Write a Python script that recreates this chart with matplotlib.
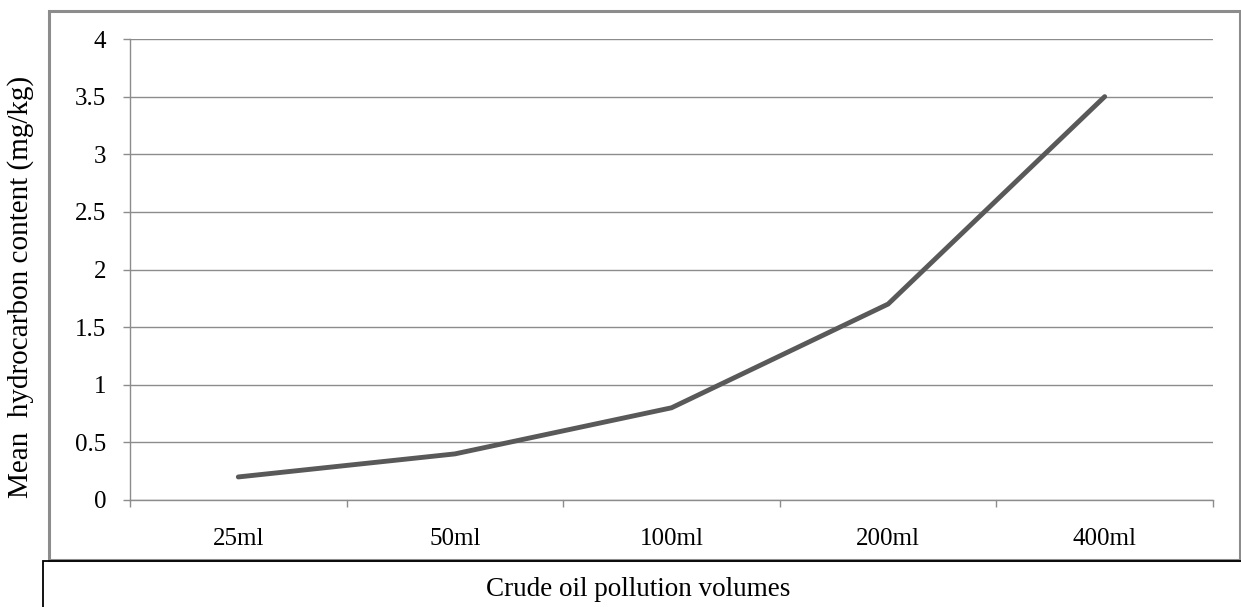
import matplotlib
matplotlib.use("Agg")
import matplotlib.pyplot as plt
from matplotlib.patches import Rectangle
import numpy as np

categories = ["25ml", "50ml", "100ml", "200ml", "400ml"]
hydrocarbon = [0.2, 0.4, 0.8, 1.7, 3.5]
y_ticks = [0, 0.5, 1, 1.5, 2, 2.5, 3, 3.5, 4]
y_tick_labels = ["0", "0.5", "1", "1.5", "2", "2.5", "3", "3.5", "4"]

plt.rcParams["font.family"] = ["Liberation Serif", "DejaVu Serif"]

W, H = 1241, 607
fig = plt.figure(figsize=(W / 100, H / 100), dpi=100)

def fx(px):
    return px / W

def fy(py):
    return 1 - py / H

# outer chart frame
fig.patches.append(Rectangle((fx(49), fy(560)), fx(1240) - fx(49), fy(11) - fy(560),
                             transform=fig.transFigure, fill=False,
                             edgecolor="#8c8c8c", linewidth=2.2))
# caption box for the x-axis title
fig.patches.append(Rectangle((fx(43), fy(640)), fx(1300) - fx(43), fy(561) - fy(640),
                             transform=fig.transFigure, fill=False,
                             edgecolor="black", linewidth=1.3, clip_on=False))

ax = fig.add_axes([fx(130), fy(500), fx(1213) - fx(130), fy(39) - fy(500)])
x = np.arange(len(categories))
ax.plot(x, hydrocarbon, color="#595959", linewidth=3.5, solid_capstyle="round",
        solid_joinstyle="miter", zorder=3)

ax.set_xlim(-0.5, len(categories) - 0.5)
ax.set_ylim(0, 4)
ax.set_yticks(y_ticks)
ax.set_yticklabels(y_tick_labels)
ax.set_xticks(x)
ax.set_xticklabels(categories)
ax.set_xticks(np.arange(-0.5, len(categories)), minor=True)

ax.grid(axis="y", color="#8c8c8c", linewidth=1.0)
ax.set_axisbelow(True)
for side in ["top", "right"]:
    ax.spines[side].set_visible(False)
for side in ["left", "bottom"]:
    ax.spines[side].set_color("#8c8c8c")
    ax.spines[side].set_linewidth(1.0)

ax.tick_params(axis="y", length=5, width=1.0, color="#8c8c8c", labelsize=18,
               pad=12, labelcolor="black")
ax.tick_params(axis="x", which="major", length=0, labelsize=18, pad=20)
ax.tick_params(axis="x", which="minor", length=5, width=1.0, color="#8c8c8c")

fig.text(fx(21), fy(287), "Mean  hydrocarbon content (mg/kg)", rotation=90,
         ha="center", va="center", fontsize=21)
fig.text(fx(638), fy(590), "Crude oil pollution volumes", ha="center",
         va="center", fontsize=19.5)

fig.savefig("out.png", dpi=100)
